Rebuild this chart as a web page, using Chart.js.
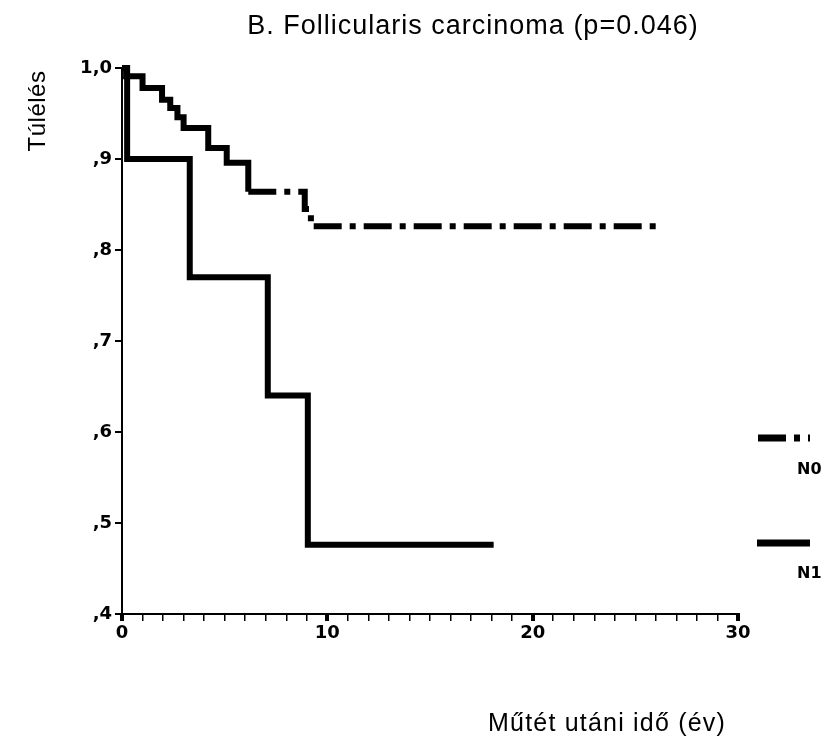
<!DOCTYPE html>
<html>
<head>
<meta charset="utf-8">
<script src="https://cdn.jsdelivr.net/npm/chart.js@4/dist/chart.umd.min.js"></script>
<style>
  html, body { margin: 0; padding: 0; background: #fff; }
  #km { display: block; }
</style>
</head>
<body>
<canvas id="km" width="832" height="740"></canvas>
<script>
// Kaplan-Meier steps (time in years, survival)
const n0Times = [0, 0.2, 1.0, 1.95, 2.35, 2.7, 3.0, 4.2, 5.1, 6.15, 8.9, 9.2, 26.2];
const n0Surv  = [1.0, 0.991, 0.978, 0.965, 0.956, 0.946, 0.934, 0.912, 0.896, 0.864, 0.845, 0.826, 0.826];
const n1Times = [0, 0.25, 3.3, 7.1, 9.05, 18.1];
const n1Surv  = [1.0, 0.9, 0.77, 0.64, 0.476, 0.476];

const seriesNames = ['N0', 'N1'];
const xTickLabels = [0, 10, 20, 30];
const titleText = 'B. Follicularis carcinoma (p=0.046)';
const xTitle = 'Műtét utáni idő (év)';
const yTitle = 'Túlélés';

const dashN0 = [28, 8, 6, 8];
// the dash-dot pattern only shows up once the steps get long
const n0DashFrom = 6;

function toPoints(ts, ss) {
  return ts.map((t, i) => ({ x: t, y: ss[i] }));
}

function yLabel(v) {
  const k = Math.round(v * 10);
  return k === 10 ? '1,0' : ',' + k;
}

const textPlugin = {
  id: 'texts',
  afterDraw(chart) {
    const ctx = chart.ctx;
    ctx.save();
    ctx.fillStyle = '#000';

    // title
    ctx.font = '27px "Liberation Sans", Arial, sans-serif';
    ctx.letterSpacing = '1px';
    ctx.textAlign = 'center';
    ctx.textBaseline = 'alphabetic';
    ctx.fillText(titleText, 473, 34);

    // x title
    ctx.font = '25px "Liberation Sans", Arial, sans-serif';
    ctx.letterSpacing = '1.2px';
    ctx.fillText(xTitle, 607, 731);

    // y title, rotated
    ctx.save();
    ctx.translate(45, 111);
    ctx.rotate(-Math.PI / 2);
    ctx.font = '24px "Liberation Sans", Arial, sans-serif';
    ctx.letterSpacing = '0.5px';
    ctx.fillText(yTitle, 0, 0);
    ctx.restore();
    ctx.letterSpacing = '0px';

    // legend
    ctx.strokeStyle = '#000';
    ctx.lineCap = 'butt';
    ctx.lineWidth = 7;
    ctx.setLineDash(dashN0);
    ctx.beginPath();
    ctx.moveTo(758, 438);
    ctx.lineTo(810, 438);
    ctx.stroke();
    ctx.setLineDash([]);
    ctx.beginPath();
    ctx.moveTo(757, 543);
    ctx.lineTo(810, 543);
    ctx.stroke();

    ctx.font = 'bold 16px "DejaVu Sans", sans-serif';
    ctx.textAlign = 'left';
    ctx.textBaseline = 'middle';
    ctx.fillText(seriesNames[0], 797, 470);
    ctx.fillText(seriesNames[1], 797, 574);
    ctx.restore();
  }
};

const tickFont = { family: '"DejaVu Sans", sans-serif', size: 18, weight: 'bold' };

new Chart(document.getElementById('km'), {
  type: 'line',
  data: {
    datasets: [
      {
        label: seriesNames[0],
        data: toPoints(n0Times, n0Surv),
        stepped: true,
        borderColor: '#000',
        borderWidth: 6,
        borderDash: dashN0,
        borderCapStyle: 'butt',
        borderJoinStyle: 'miter',
        pointRadius: 0,
        fill: false,
        clip: false,
        segment: {
          borderDash: (c) => c.p0.parsed.x < n0DashFrom ? [] : dashN0
        }
      },
      {
        label: seriesNames[1],
        data: toPoints(n1Times, n1Surv),
        stepped: true,
        borderColor: '#000',
        borderWidth: 6,
        borderCapStyle: 'butt',
        borderJoinStyle: 'miter',
        pointRadius: 0,
        fill: false,
        clip: false
      }
    ]
  },
  options: {
    responsive: false,
    maintainAspectRatio: false,
    devicePixelRatio: 1,
    animation: false,
    events: [],
    layout: { padding: { left: 0, right: 94, top: 68, bottom: 0 } },
    plugins: {
      legend: { display: false },
      title: { display: false },
      tooltip: { enabled: false }
    },
    scales: {
      x: {
        type: 'linear',
        min: 0,
        max: 30,
        afterFit: (scale) => { scale.height = 126; },
        ticks: {
          stepSize: 1,
          maxTicksLimit: 100,
          autoSkip: false,
          maxRotation: 0,
          padding: 2,
          color: '#000',
          font: tickFont,
          callback: (v) => xTickLabels.includes(v) ? String(v) : ''
        },
        grid: {
          drawOnChartArea: false,
          drawTicks: true,
          tickLength: 7,
          color: '#000',
          lineWidth: (c) => (c.tick && xTickLabels.includes(c.tick.value)) ? 4 : 1.5
        },
        border: { display: true, color: '#000', width: 2 }
      },
      y: {
        type: 'linear',
        min: 0.4,
        max: 1.0,
        afterFit: (scale) => { scale.width = 122; },
        ticks: {
          stepSize: 0.1,
          padding: 3,
          color: '#000',
          font: tickFont,
          callback: (v) => yLabel(v)
        },
        grid: {
          drawOnChartArea: false,
          drawTicks: true,
          tickLength: 7,
          color: '#000',
          lineWidth: 2
        },
        border: { display: true, color: '#000', width: 2 }
      }
    }
  },
  plugins: [textPlugin]
});
</script>
</body>
</html>
